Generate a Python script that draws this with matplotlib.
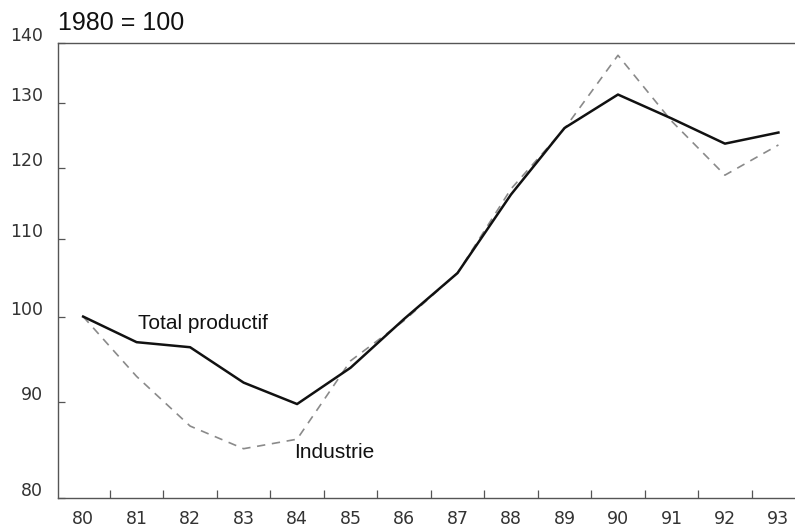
import numpy as np
import matplotlib.pyplot as plt
from matplotlib.ticker import FixedLocator, NullFormatter, NullLocator
import matplotlib.transforms as mtransforms

years = [80, 81, 82, 83, 84, 85, 86, 87, 88, 89, 90, 91, 92, 93]
total_productif = [100.0, 96.9, 96.3, 92.2, 89.8, 93.9, 99.7, 105.5, 116.2, 126.1, 131.4, 127.6, 123.7, 125.4]
industrie = [100.0, 92.9, 87.4, 85.0, 86.0, 94.7, 99.5, 105.5, 117.0, 126.0, 137.9, 127.2, 119.0, 123.5]
y_ticks = [80, 90, 100, 110, 120, 130, 140]

fig = plt.figure(figsize=(7.95, 5.28), dpi=100)
ax = fig.add_axes([58 / 795, 30 / 528, 737 / 795, 455 / 528])

ax.plot(years, industrie, color='#8a8a8a', lw=1.2, dashes=(5, 4))
ax.plot(years, total_productif, color='#111111', lw=1.8)

ax.set_yscale('log')
ax.set_ylim(80, 140)
ax.set_xlim(79.53, 93.31)

# y axis: labels sit a bit above their tick
ax.yaxis.set_major_locator(FixedLocator(y_ticks))
ax.yaxis.set_minor_locator(NullLocator())
ax.yaxis.set_minor_formatter(NullFormatter())
ax.set_yticklabels([str(v) for v in y_ticks])
ax.tick_params(axis='y', direction='in', length=5, width=0.9, color='#555555',
               pad=11, labelsize=12.5, labelcolor='#333333')
offset = mtransforms.ScaledTranslation(0, 9 / 100, fig.dpi_scale_trans)
for lab in ax.get_yticklabels():
    lab.set_transform(lab.get_transform() + offset)

# x axis: labels at years, ticks between years
ax.set_xticks(years)
ax.set_xticklabels([str(y) for y in years])
ax.set_xticks([y + 0.5 for y in years[:-1]], minor=True)
ax.tick_params(axis='x', which='major', length=0, pad=9, labelsize=12.5, labelcolor='#333333')
ax.tick_params(axis='x', which='minor', direction='in', length=6, width=0.9, color='#555555')

for side in ['left', 'bottom', 'top']:
    ax.spines[side].set_color('#555555')
    ax.spines[side].set_linewidth(1.0)
ax.spines['right'].set_visible(False)

fig.text(58 / 795, 1 - 23 / 528, '1980 = 100', fontsize=18, family='Liberation Sans',
         va='center', ha='left', color='#111111')
ax.text(82.24, 99.1, 'Total productif', fontsize=15, family='Liberation Sans',
        ha='center', va='center', color='#111111')
ax.text(84.7, 84.6, 'Industrie', fontsize=15, family='Liberation Sans',
        ha='center', va='center', color='#111111')

fig.savefig('out.png', dpi=100)
